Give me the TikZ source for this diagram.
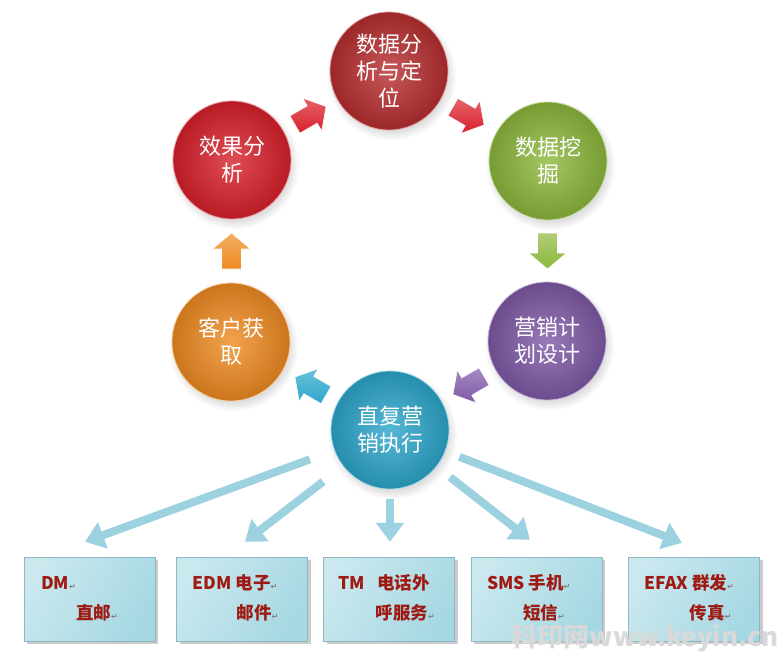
\documentclass[tikz,border=0pt]{standalone}
\usepackage{fontspec}
\newfontfamily\cjk{Noto Sans CJK SC}
\newfontfamily\symfont{DejaVu Sans}
\usetikzlibrary{calc,shadows,arrows.meta}

\definecolor{anared}{HTML}{B82E30}
\definecolor{effred}{HTML}{D9202B}
\definecolor{minegreen}{HTML}{8DB83C}
\definecolor{planpurple}{HTML}{7E59A6}
\definecolor{execteal}{HTML}{2DA6CB}
\definecolor{acqorange}{HTML}{EF8B22}
\definecolor{feedblue}{HTML}{9CD1DF}
\definecolor{chanred}{HTML}{9E1A12}
\definecolor{boxhi}{HTML}{F2FAFB}
\definecolor{boxlo}{HTML}{A6D8E3}

\newcommand\ret{{\symfont\fontsize{8}{8}\selectfont\textcolor{gray}{↵}}}

\begin{document}
\begin{tikzpicture}[x=1pt,y=-1pt,
    ball/.style={circle,minimum size=118pt,inner sep=0pt,align=center,text=white,
      font=\cjk\fontsize{22}{27}\selectfont,
      inner color=#1!80!white,outer color=#1!85!black,draw=#1!45!white,line width=0.8pt,
      circular drop shadow={opacity=0.25,shadow xshift=2pt,shadow yshift=-4pt}},
    chan/.style={minimum width=131pt,minimum height=84pt,inner sep=0pt,
      top color=boxlo!60!white,middle color=boxhi,bottom color=boxlo,shading angle=60,
      draw=boxlo!85!black,line width=0.4pt,
      drop shadow={opacity=0.4,shadow xshift=3pt,shadow yshift=-3pt}},
    chantext/.style={anchor=base west,inner sep=0pt,text=chanred,
      font=\cjk\bfseries\fontsize{17.5}{18}\selectfont},
    feed/.style={feedblue,line width=8pt,-{Triangle[width=27pt,length=19pt]}},
    fatarrow/.pic={\path[pic actions] (-18,-10) -- (2,-10) -- (2,-19) -- (18,0)
      -- (2,19) -- (2,10) -- (-18,10) -- cycle;}]
    \fill[white] (0,0) rectangle (782,667);
    \useasboundingbox (0,0) rectangle (782,667);

    \node[ball=anared] (analysis) at (389,71) {数据分\\析与定\\位};
    \node[ball=minegreen] (mining) at (548,161) {数据挖\\掘};
    \node[ball=planpurple] (plan) at (547,341) {营销计\\划设计};
    \node[ball=execteal] (exec) at (390,430) {直复营\\销执行};
    \node[ball=acqorange] (acquire) at (231,342) {客户获\\取};
    \node[ball=effred] (effect) at (232,160) {效果分\\析};

    \pic[rotate=30,top color=effred!70!white,bottom color=effred,draw=white,line width=0.6pt]
      at ($(effect)!0.5!(analysis)$) {fatarrow};
    \pic[rotate=-30,top color=effred!70!white,bottom color=effred,draw=white,line width=0.6pt]
      at ($(analysis)!0.5!(mining)$) {fatarrow};
    \pic[rotate=-90,top color=minegreen!70!white,bottom color=minegreen,draw=white,line width=0.6pt]
      at ($(mining)!0.5!(plan)$) {fatarrow};
    \pic[rotate=210,top color=planpurple!70!white,bottom color=planpurple,draw=white,line width=0.6pt]
      at ($(plan)!0.5!(exec)$) {fatarrow};
    \pic[rotate=150,top color=execteal!70!white,bottom color=execteal,draw=white,line width=0.6pt]
      at ($(exec)!0.5!(acquire)$) {fatarrow};
    \pic[rotate=90,top color=acqorange!70!white,bottom color=acqorange,draw=white,line width=0.6pt]
      at ($(acquire)!0.5!(effect)$) {fatarrow};

    \node[chan] (dm) at (89.5,599) {};
    \node[chan] (edm) at (242,599) {};
    \node[chan] (tm) at (389,599) {};
    \node[chan] (sms) at (536.5,599) {};
    \node[chan] (efax) at (694,599) {};

    \node[chantext] (dm-a) at ([shift={(17,33)}]dm.north west) {DM\ret};
    \node[chantext] (dm-b) at ([shift={(52,63)}]dm.north west) {直邮\ret};
    \node[chantext] (edm-a) at ([shift={(16,33)}]edm.north west) {EDM 电子\ret};
    \node[chantext] (edm-b) at ([shift={(60,63)}]edm.north west) {邮件\ret};
    \node[chantext] (tm-a) at ([shift={(15,33)}]tm.north west) {TM\hspace{12pt}电话外};
    \node[chantext] (tm-b) at ([shift={(52,63)}]tm.north west) {呼服务\ret};
    \node[chantext] (sms-a) at ([shift={(16,33)}]sms.north west) {SMS 手机\ret};
    \node[chantext] (sms-b) at ([shift={(52,63)}]sms.north west) {短信\ret};
    \node[chantext] (efax-a) at ([shift={(16,33)}]efax.north west) {EFAX 群发\ret};
    \node[chantext] (efax-b) at ([shift={(61,63)}]efax.north west) {传真\ret};

    \coordinate (dm-in) at ([shift={(-4.5,-15)}]dm.north);
    \coordinate (edm-in) at ([shift={(3,-15)}]edm.north);
    \coordinate (tm-in) at ([shift={(1,-15)}]tm.north);
    \coordinate (sms-in) at ([shift={(-6.5,-17)}]sms.north);
    \coordinate (efax-in) at ([shift={(-12,-14)}]efax.north);

    \draw[feed,shorten <=26pt] (exec) -- (dm-in);
    \draw[feed,shorten <=25pt] (exec) -- (edm-in);
    \draw[feed,shorten <=10pt] (exec) -- (tm-in);
    \draw[feed,shorten <=17pt] (exec) -- (sms-in);
    \draw[feed,shorten <=15pt] (exec) -- (efax-in);

    \node[font=\cjk\bfseries\fontsize{26}{26}\selectfont,text=gray!30,inner sep=0pt]
      (mark) at (645,638) {科印网www.keyin.cn};
\end{tikzpicture}
\end{document}
